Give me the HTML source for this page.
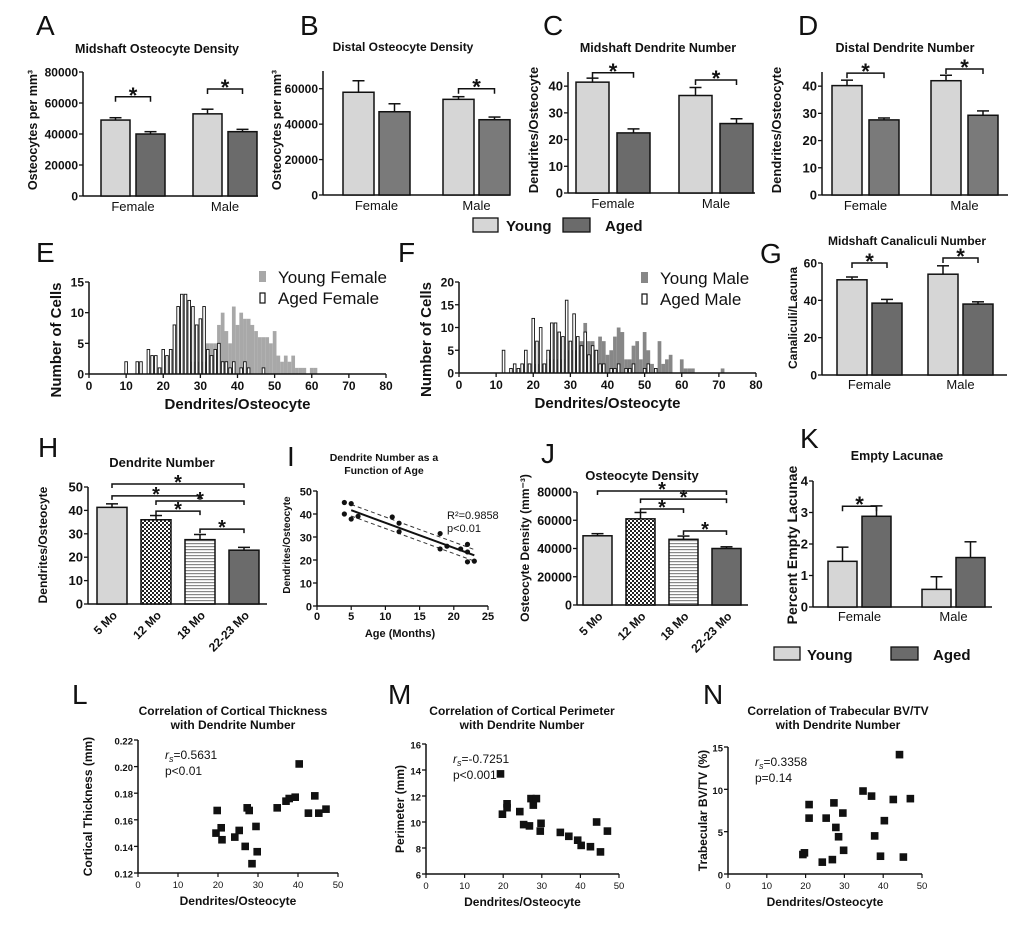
<!DOCTYPE html>
<html><head><meta charset="utf-8"><style>
body{margin:0;background:#fff}
svg{display:block;font-family:"Liberation Sans",Arial,sans-serif}
</style></head><body>
<svg id="fig" width="1020" height="944" viewBox="0 0 1020 944">
<defs>
<pattern id="chk" width="4" height="4" patternUnits="userSpaceOnUse"><rect width="4" height="4" fill="#fff"/><rect width="2" height="2" fill="#222"/><rect x="2" y="2" width="2" height="2" fill="#222"/></pattern>
<pattern id="hstr" width="4" height="3" patternUnits="userSpaceOnUse"><rect width="4" height="3" fill="#fff"/><rect width="4" height="1.2" fill="#888"/></pattern>
</defs>
</svg>
<script>
// ---------- data ----------
const groups = ["Female","Male"];
const seriesNames = ["Young","Aged"];
const aYoung=[49000,53000], aAged=[40000,41500], aErrY=[1500,3000], aErrA=[1500,1500];
const bYoung=[58000,54000], bAged=[47000,42500], bErrY=[6500,1500], bErrA=[4500,1500];
const cYoung=[41.5,36.5], cAged=[22.5,26], cErrY=[1.5,3], cErrA=[1.5,1.8];
const dYoung=[40.2,42], dAged=[27.6,29.3], dErrY=[2,2], dErrA=[0.7,1.6];
const gYoung=[51,54], gAged=[38.5,38], gErrY=[1.5,4.5], gErrA=[2,1.2];
const kYoung=[1.45,0.56], kAged=[2.88,1.57], kErrY=[0.45,0.4], kErrA=[0.33,0.5];
const ageCats=["5 Mo","12 Mo","18 Mo","22-23 Mo"];
const hVals=[41.3,36,27.5,23], hErr=[1.5,1.8,2.2,1.2];
const jVals=[49000,61000,46500,40000], jErr=[1500,4500,2300,1200];
const histBins=[10,11,12,13,14,15,16,17,18,19,20,21,22,23,24,25,26,27,28,29,30,31,32,33,34,35,36,37,38,39,40,41,42,43,44,45,46,47,48,49,50,51,52,53,54,55,56,57,58,59,60,61,62,63,64,65,66,67,68,69,70,71];
const eYoungF=[0,0,0,0,0,0,0,0,0,0,0,0,0,0,0,0,0,0,2,2,2,2,5,5,5,8,10,7,5,11,8,10,9,9,8,7,6,6,6,5,7,3,2,3,2,3,1,1,1,0,1,1,0,0,0,0,0,0,0,0,0,0];
const eAgedF=[2,0,0,2,2,0,4,3,3,1,4,3,4,8,11,13,13,12,11,8,9,11,4,3,4,5,2,2,1,2,0,1,2,1,0,0,0,1,0,0,0,0,0,0,0,0,0,0,0,0,0,0,0,0,0,0,0,0,0,0,0,0];
const fYoungM=[0,0,0,0,0,0,0,0,0,0,2,2,2,2,3,3,3,3,3,5,5,5,5,7,11,7,7,5,8,7,4,5,8,10,9,3,3,6,7,3,9,5,2,1,7,2,3,4,0,0,3,1,1,1,0,0,0,0,0,0,0,1];
const fAgedM=[0,0,5,0,1,2,1,2,5,2,12,7,10,2,5,11,11,9,8,16,7,13,8,6,9,4,6,5,2,2,0,1,1,2,0,1,1,2,0,0,1,2,0,1,0,0,0,0,0,0,0,0,0,0,0,0,0,0,0,0,0,0];
const iAge=[4,4,5,5,6,11,12,12,18,18,19,21,22,22,22,23];
const iDend=[45,40,44.5,37.8,39,38.7,36,32.3,31.5,24.8,26,24.8,26.8,23.5,19.2,19.5];
const lX=[19.5,19.8,20.8,21,24.2,25.3,26.8,27.3,27.8,28.5,29.5,29.8,34.8,37,37.8,39.3,40.3,42.6,44.2,45.2,47];
const lY=[0.150,0.167,0.154,0.145,0.147,0.152,0.140,0.169,0.167,0.127,0.155,0.136,0.169,0.174,0.176,0.177,0.202,0.165,0.178,0.165,0.168];
const mX=[19.3,19.8,21,21,24.3,25.3,26.8,27.2,27.8,28.6,29.6,29.8,34.8,37,39.3,40.2,42.6,44.2,45.2,47];
const mY=[13.7,10.6,11.4,11.1,10.8,9.8,9.7,11.8,11.3,11.8,9.3,9.9,9.2,8.9,8.6,8.2,8.1,10,7.7,9.3];
const nX=[19.3,19.7,20.9,20.9,24.3,25.3,26.9,27.3,27.8,28.5,29.6,29.8,34.8,37,37.8,39.3,40.3,42.6,44.2,45.2,47];
const nY=[2.3,2.5,8.2,6.6,1.4,6.6,1.7,8.4,5.5,4.4,7.2,2.8,9.8,9.2,4.5,2.1,6.3,8.8,14.1,2,8.9];

// ---------- helpers ----------
const svg=document.getElementById('fig');
const NS='http://www.w3.org/2000/svg';
function el(tag,attrs,parent,text){const e=document.createElementNS(NS,tag);for(const k in attrs)e.setAttribute(k,attrs[k]);if(text!==undefined)e.textContent=text;(parent||svg).appendChild(e);return e;}
function grp(name){const g=el('g',{});


return g;}
function txt(p,x,y,s,size,opt){opt=opt||{};const t=el('text',{x:x,y:y,'font-size':size,'font-weight':opt.w||'bold','text-anchor':opt.a||'middle',fill:'#111'},p,s);if(opt.rot)t.setAttribute('transform','rotate('+opt.rot+' '+x+' '+y+')');


return t;}
function linY(v0,p0,v1,p1){return v=>p0+(v-v0)*(p1-p0)/(v1-v0);}
function yAxis(p,x,y0,y1,ticks,sy,fmt,fs){el('line',{x1:x,y1:y0,x2:x,y2:y1,stroke:'#111','stroke-width':1.5},p);
ticks.forEach(t=>{const y=sy(t);el('line',{x1:x-4,y1:y,x2:x,y2:y,stroke:'#111','stroke-width':1.3},p);txt(p,x-5,y+4.5,fmt?fmt(t):String(t),fs||13,{a:'end',name:'y-tick-label'});});}
function bracket(p,xa,xb,y){el('path',{d:`M${xa} ${y+5}V${y}H${xb}V${y+5}`,fill:'none',stroke:'#111','stroke-width':1.5},p);txt(p,(xa+xb)/2,y+6,'*',22,{name:'significance-star'});}
function errBar(p,cx,yTop,yErr){el('line',{x1:cx,y1:yTop,x2:cx,y2:yErr,stroke:'#111','stroke-width':1.5},p);el('line',{x1:cx-6,y1:yErr,x2:cx+6,y2:yErr,stroke:'#111','stroke-width':1.5},p);}
function label(p,x,y,s){txt(p,x,y,s,28,{w:'normal',a:'start',name:'panel-letter'});}

// grouped bar chart
function grouped(o){const p=grp(o.name);const sy=linY(0,o.y0,o.vmax,o.ytop);
yAxis(p,o.x0,o.y0,o.ytop,o.ticks,sy,null,o.fs);
el('line',{x1:o.x0,y1:o.y0,x2:o.xend,y2:o.y0,stroke:'#111','stroke-width':1.5},p);
const cx=(g,s)=>o.x0+o.start+g*o.gstep+s*o.bstep;
groups.forEach((gname,g)=>{[[o.young,o.ey,'#d6d6d6'],[o.aged,o.ea,o.dark||'#6b6b6b']].forEach((d,s)=>{const x=cx(g,s),yt=sy(d[0][g]);
const r=el('rect',{x:x,y:yt,width:o.w,height:o.y0-yt,fill:d[2],stroke:'#111','stroke-width':1.5},p);


errBar(p,x+o.w/2,yt,sy(d[0][g]+d[1][g]));});
txt(p,(cx(g,0)+cx(g,1)+o.w)/2,o.y0+(o.catdy||15),gname,13,{w:'normal',name:'category-label'});});
(o.br||[]).forEach(b=>bracket(p,cx(b[0],0)+o.w/2,cx(b[0],1)+o.w/2,sy(b[1])));
txt(p,o.tx,o.ty,o.title,o.tfs||12.5,{name:'chart-title'});
txt(p,o.ylx,o.yly,o.ytitle,o.yfs||13,{rot:-90,name:'y-axis-title'});
return p;}

// ---------- A-D ----------
label(svg,36,35,'A');label(svg,300,35,'B');label(svg,543,35,'C');label(svg,798,35,'D');
grouped({name:'chart-a',x0:83,y0:196,ytop:72,vmax:80000,ticks:[0,20000,40000,60000,80000],xend:258,start:18,gstep:92,bstep:35,w:29,young:aYoung,aged:aAged,ey:aErrY,ea:aErrA,br:[[0,64000],[1,69000]],fs:12,title:'Midshaft Osteocyte Density',tx:157,ty:53,ytitle:'Osteocytes per mm³',ylx:37,yly:130,yfs:12.5});
grouped({name:'chart-b',x0:323,y0:195,ytop:71,vmax:70000,ticks:[0,20000,40000,60000],xend:510,start:20,gstep:100,bstep:36,w:31,young:bYoung,aged:bAged,ey:bErrY,ea:bErrA,dark:'#7a7a7a',br:[[1,60000]],fs:12,title:'Distal Osteocyte Density',tx:403,ty:51,tfs:12,ytitle:'Osteocytes per mm³',ylx:281,yly:130,yfs:12.5});
grouped({name:'chart-c',x0:568,y0:193,ytop:72,vmax:45.3,ticks:[0,10,20,30,40],xend:755,start:8,gstep:103,bstep:41,w:33,young:cYoung,aged:cAged,ey:cErrY,ea:cErrA,br:[[0,45],[1,42.3]],title:'Midshaft Dendrite Number',tx:658,ty:52,ytitle:'Dendrites/Osteocyte',ylx:538,yly:130});
grouped({name:'chart-d',x0:822,y0:195,ytop:72,vmax:45.2,ticks:[0,10,20,30,40],xend:1008,start:10,gstep:99,bstep:37,w:30,young:dYoung,aged:dAged,ey:dErrY,ea:dErrA,dark:'#7a7a7a',br:[[0,44.8],[1,46.3]],title:'Distal Dendrite Number',tx:905,ty:52,ytitle:'Dendrites/Osteocyte',ylx:781,yly:130});
(function(){const p=grp('legend-top');
const a=el('rect',{x:473,y:218,width:25,height:14,fill:'#d6d6d6',stroke:'#111','stroke-width':1.3},p);

txt(p,506,231,'Young',15,{a:'start',name:'legend-young'});
const b=el('rect',{x:563,y:218,width:27,height:14,fill:'#6b6b6b',stroke:'#111','stroke-width':1.3},p);

txt(p,605,231,'Aged',15,{a:'start',name:'legend-aged'});})();

// ---------- histograms ----------
function hist(o){const p=grp(o.name);const sx=linY(0,o.x0,80,o.x1),sy=linY(0,o.y0,o.vmax,o.ytop);
const bw=sx(1)-sx(0);
histBins.forEach((b,i)=>{if(o.young[i]>0){const r=el('rect',{x:sx(b)-bw/2,y:sy(o.young[i]),width:bw,height:o.y0-sy(o.young[i]),fill:o.gray},p);
}});
histBins.forEach((b,i)=>{if(o.aged[i]>0){const r=el('rect',{x:sx(b)-bw*0.35,y:sy(o.aged[i]),width:bw*0.7,height:o.y0-sy(o.aged[i]),fill:'#fff',stroke:'#111','stroke-width':0.9},p);
}});
yAxis(p,o.x0,o.y0,o.ytop,o.ticks,sy,null,12);
el('line',{x1:o.x0,y1:o.y0,x2:o.x1,y2:o.y0,stroke:'#111','stroke-width':1.5},p);
[0,10,20,30,40,50,60,70,80].forEach(t=>{el('line',{x1:sx(t),y1:o.y0,x2:sx(t),y2:o.y0+4,stroke:'#111','stroke-width':1.3},p);txt(p,sx(t),o.y0+16,String(t),12,{name:'x-tick-label'});});
txt(p,(o.x0+o.x1)/2,o.y0+35,'Dendrites/Osteocyte',15,{name:'x-axis-title'});
txt(p,o.x0-28,(o.y0+o.ytop)/2+12,'Number of Cells',15,{rot:-90,name:'y-axis-title'});
el('rect',{x:o.lx,y:o.ly-12,width:7,height:11,fill:o.gray},p);
txt(p,o.lx+19,o.ly,o.l1,17,{w:'normal',a:'start',name:'legend-young'});
el('rect',{x:o.lx+1,y:o.ly+10,width:5,height:10,fill:'#fff',stroke:'#111','stroke-width':1.2},p);
txt(p,o.lx+19,o.ly+21,o.l2,17,{w:'normal',a:'start',name:'legend-aged'});}
label(svg,36,262,'E');label(svg,398,262,'F');label(svg,760,263,'G');
hist({name:'histogram-female',x0:89,x1:386,y0:374,ytop:282,vmax:15,ticks:[0,5,10,15],young:eYoungF,aged:eAgedF,gray:'#a8a8a8',lx:259,ly:283,l1:'Young Female',l2:'Aged Female'});
hist({name:'histogram-male',x0:459,x1:756,y0:373,ytop:282,vmax:20,ticks:[0,5,10,15,20],young:fYoungM,aged:fAgedM,gray:'#878787',lx:641,ly:284,l1:'Young Male',l2:'Aged Male'});
grouped({name:'chart-g',x0:822,y0:375,ytop:263,vmax:60,ticks:[0,20,40,60],xend:1007,start:15,gstep:91,bstep:35,w:30,young:gYoung,aged:gAged,ey:gErrY,ea:gErrA,br:[[0,60],[1,62.7]],title:'Midshaft Canaliculi Number',tx:907,ty:245,tfs:12,fs:12,ytitle:'Canaliculi/Lacuna',ylx:797,yly:318,yfs:12,catdy:14});

// ---------- H, J ----------
function ageBars(o){const p=grp(o.name);const sy=linY(0,o.y0,o.vmax,o.ytop);
const fills=['#d6d6d6','url(#chk)','url(#hstr)','#6b6b6b'];
yAxis(p,o.x0,o.y0,o.ytop,o.ticks,sy,null,o.fs||13);
el('line',{x1:o.x0,y1:o.y0,x2:o.xend,y2:o.y0,stroke:'#111','stroke-width':1.5},p);
const bx=i=>o.x0+o.start+i*o.step;
ageCats.forEach((c,i)=>{const yt=sy(o.vals[i]);const r=el('rect',{x:bx(i),y:yt,width:o.w,height:o.y0-yt,fill:fills[i],stroke:'#111','stroke-width':1.5},p);

errBar(p,bx(i)+o.w/2,yt,sy(o.vals[i]+o.err[i]));
txt(p,bx(i)+o.w/2+6,o.y0+12,c,12,{a:'end',rot:-45,name:'category-label'});});
o.br.forEach(b=>{const y=sy(b[2]);el('path',{d:`M${bx(b[0])+o.w/2} ${y+4}V${y}H${bx(b[1])+o.w/2}V${y+4}`,fill:'none',stroke:'#111','stroke-width':1.5},p);txt(p,(bx(b[0])+bx(b[1]))/2+o.w/2,y+5,'*',20,{name:'significance-star'});});
txt(p,o.tx,o.ty,o.title,13,{name:'chart-title'});txt(p,o.ylx,o.yly,o.ytitle,12,{rot:-90,name:'y-axis-title'});}
label(svg,38,457,'H');label(svg,287,466,'I');label(svg,541,463,'J');label(svg,800,448,'K');
ageBars({name:'chart-h',x0:88,y0:604,ytop:487,vmax:50,ticks:[0,10,20,30,40,50],xend:267,start:9,step:44,w:30,vals:hVals,err:hErr,br:[[0,3,51.3],[0,2,46.2],[1,3,44],[1,2,39.7],[2,3,32]],title:'Dendrite Number',tx:162,ty:467,ytitle:'Dendrites/Osteocyte',ylx:47,yly:545});
ageBars({name:'chart-j',x0:577,y0:605,ytop:492,vmax:80000,ticks:[0,20000,40000,60000,80000],xend:748,start:6,step:43,w:29,vals:jVals,err:jErr,fs:12.5,br:[[0,3,80700],[1,3,75000],[1,2,68000],[2,3,52400]],title:'Osteocyte Density',tx:642,ty:480,ytitle:'Osteocyte Density (mm⁻³)',ylx:529,yly:548});

// ---------- I regression ----------
(function(){const p=grp('chart-i');const sx=linY(0,317,25,488),sy=linY(0,606,50,491);
yAxis(p,317,606,491,[0,10,20,30,40,50],sy,null,11);
el('line',{x1:317,y1:606,x2:488,y2:606,stroke:'#111','stroke-width':1.5},p);
[0,5,10,15,20,25].forEach(t=>{el('line',{x1:sx(t),y1:606,x2:sx(t),y2:610,stroke:'#111','stroke-width':1.2},p);txt(p,sx(t),620,String(t),11,{name:'x-tick-label'});});
const n=iAge.length,mx=iAge.reduce((a,b)=>a+b)/n,my=iDend.reduce((a,b)=>a+b)/n;
let sxy=0,sxx=0;iAge.forEach((x,i)=>{sxy+=(x-mx)*(iDend[i]-my);sxx+=(x-mx)*(x-mx);});
const b=sxy/sxx,a=my-b*mx,f=x=>a+b*x;const xa=Math.min(...iAge)+1,xb=Math.max(...iAge);
[-2.5,2.5].forEach(d=>{const l=el('line',{x1:sx(xa),y1:sy(f(xa)+d),x2:sx(xb),y2:sy(f(xb)+d),stroke:'#333','stroke-width':1,'stroke-dasharray':'4 3'},p);
});
const fl=el('line',{x1:sx(xa),y1:sy(f(xa)),x2:sx(xb),y2:sy(f(xb)),stroke:'#111','stroke-width':2},p);

iAge.forEach((x,i)=>{const c=el('circle',{cx:sx(x),cy:sy(iDend[i]),r:2.6,fill:'#111'},p);
});
txt(p,384,461,'Dendrite Number as a',10.5,{name:'chart-title'});txt(p,384,474,'Function of Age',10.5,{name:'chart-title'});
txt(p,447,519,'R²=0.9858',11,{w:'normal',a:'start',name:'r-squared'});txt(p,447,532,'p<0.01',11,{w:'normal',a:'start',name:'p-value'});
txt(p,290,545,'Dendrites/Osteocyte',10,{rot:-90,name:'y-axis-title'});txt(p,400,637,'Age (Months)',11,{name:'x-axis-title'});})();

grouped({name:'chart-k',x0:813,y0:607,ytop:481,vmax:4,ticks:[0,1,2,3,4],xend:992,start:15,gstep:94,bstep:34,w:29,young:kYoung,aged:kAged,ey:kErrY,ea:kErrA,br:[[0,3.2]],title:'Empty Lacunae',tx:897,ty:460,fs:13,ytitle:'Percent Empty Lacunae',ylx:797,yly:545,yfs:14,catdy:14});
(function(){const p=grp('legend-bottom');
el('rect',{x:774,y:647,width:26,height:13,fill:'#d6d6d6',stroke:'#111','stroke-width':1.3},p);
txt(p,807,660,'Young',15,{a:'start',name:'legend-young'});
el('rect',{x:891,y:647,width:27,height:13,fill:'#6b6b6b',stroke:'#111','stroke-width':1.3},p);
txt(p,933,660,'Aged',15,{a:'start',name:'legend-aged'});})();

// ---------- scatter L,M,N ----------
function scatter(o){const p=grp(o.name);const sx=linY(0,o.x0,50,o.x1),sy=linY(o.ymin,o.y0,o.ymax,o.ytop);
yAxis(p,o.x0,o.y0,o.ytop,o.ticks,sy,o.fmt,9.5);
el('line',{x1:o.x0,y1:o.y0,x2:o.x1,y2:o.y0,stroke:'#111','stroke-width':1.5},p);
[0,10,20,30,40,50].forEach(t=>{el('line',{x1:sx(t),y1:o.y0,x2:sx(t),y2:o.y0+4,stroke:'#111','stroke-width':1.2},p);txt(p,sx(t),o.y0+15,String(t),9.5,{w:'normal',name:'x-tick-label'});});
o.xs.forEach((x,i)=>{const r=el('rect',{x:sx(x)-3.8,y:sy(o.ys[i])-3.8,width:7.6,height:7.6,fill:'#111'},p);
});
txt(p,o.tx,o.ty,o.t1,12,{name:'chart-title'});txt(p,o.tx,o.ty+14,'with Dendrite Number',12,{name:'chart-title'});
const st=txt(p,o.x0+27,o.ytop+19,'',12,{w:'normal',a:'start',name:'correlation-coefficient'});
el('tspan',{'font-style':'italic'},st,'r');el('tspan',{'font-style':'italic','font-size':9,dy:3},st,'s');el('tspan',{dy:-3},st,o.r);
txt(p,o.x0+27,o.ytop+35,o.pv,12,{w:'normal',a:'start',name:'p-value'});
txt(p,(o.x0+o.x1)/2,o.y0+32,'Dendrites/Osteocyte',12,{name:'x-axis-title'});
txt(p,o.ylx,(o.y0+o.ytop)/2,o.ytitle,12,{rot:-90,name:'y-axis-title'});}
label(svg,72,704,'L');label(svg,388,704,'M');label(svg,703,704,'N');
scatter({name:'chart-l',x0:138,x1:338,y0:873,ytop:740,ymin:0.12,ymax:0.22,ticks:[0.12,0.14,0.16,0.18,0.20,0.22],fmt:t=>t.toFixed(2),xs:lX,ys:lY,t1:'Correlation of Cortical Thickness',tx:233,ty:715,r:'=0.5631',pv:'p<0.01',ytitle:'Cortical Thickness (mm)',ylx:92});
scatter({name:'chart-m',x0:426,x1:619,y0:874,ytop:744,ymin:6,ymax:16,ticks:[6,8,10,12,14,16],xs:mX,ys:mY,t1:'Correlation of Cortical Perimeter',tx:522,ty:715,r:'=-0.7251',pv:'p<0.001',ytitle:'Perimeter (mm)',ylx:404});
scatter({name:'chart-n',x0:728,x1:922,y0:874,ytop:747,ymin:0,ymax:15,ticks:[0,5,10,15],xs:nX,ys:nY,t1:'Correlation of Trabecular BV/TV',tx:838,ty:715,r:'=0.3358',pv:'p=0.14',ytitle:'Trabecular BV/TV (%)',ylx:707});
</script>
</body></html>
